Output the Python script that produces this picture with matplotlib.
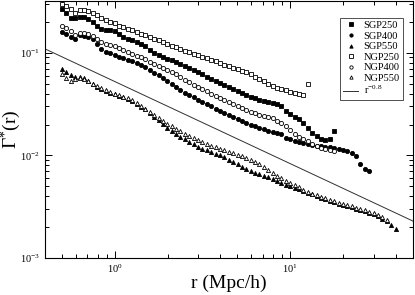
import matplotlib
matplotlib.use("Agg")
import matplotlib.pyplot as plt
from matplotlib.ticker import LogLocator, LogFormatterSciNotation, NullFormatter

plt.rcParams["font.family"] = ["Liberation Serif", "DejaVu Serif"]
plt.rcParams["mathtext.fontset"] = "custom"
plt.rcParams["mathtext.rm"] = "Liberation Serif"
plt.rcParams["mathtext.it"] = "Liberation Serif:italic"

# r (Mpc/h), gemeinsame Stützstellen
r = [0.501, 0.531, 0.562, 0.596, 0.631, 0.668, 0.708, 0.750, 0.794, 0.841,
     0.891, 0.944, 1.000, 1.059, 1.122, 1.189, 1.259, 1.334, 1.413, 1.496,
     1.585, 1.679, 1.778, 1.884, 1.995, 2.113, 2.239, 2.371, 2.512, 2.661,
     2.818, 2.985, 3.162, 3.350, 3.548, 3.758, 3.981, 4.217, 4.467, 4.732,
     5.012, 5.309, 5.623, 5.957, 6.310, 6.683, 7.079, 7.499, 7.943, 8.414,
     8.913, 9.441, 10.00, 10.59, 11.22, 11.89, 12.59, 13.34, 14.13, 14.96,
     15.85, 16.79, 17.78, 18.84, 19.95, 21.13, 22.39, 23.71, 25.12, 26.61,
     28.18, 29.85, 31.62, 33.50, 35.48, 37.58, 39.81]

ngp250 = [0.299, 0.285, 0.268, 0.244, 0.260, 0.260, 0.255, 0.245, 0.232, 0.216,
          0.207, 0.201, 0.194, 0.184, 0.177, 0.171, 0.166, 0.160, 0.154, 0.148,
          0.142, 0.137, 0.132, 0.127, 0.122, 0.117, 0.113, 0.109, 0.105, 0.101,
          0.0977, 0.0944, 0.0912, 0.0881, 0.0851, 0.0822, 0.0794, 0.0767, 0.0741, 0.0716,
          0.0692, 0.0668, 0.0643, 0.0617, 0.0586, 0.0555, 0.0525, 0.0495, 0.0476, 0.0457,
          0.0442, 0.0429, 0.0419, 0.0407, 0.0398, 0.0391, 0.0501]

sgp250 = [0.266, 0.245, 0.216, 0.216, 0.224, 0.221, 0.213, 0.200, 0.184, 0.172,
          0.167, 0.167, 0.162, 0.152, 0.143, 0.136, 0.132, 0.127, 0.122, 0.116,
          0.106, 0.0989, 0.0944, 0.0908, 0.0875, 0.0841, 0.0809, 0.0780, 0.0750, 0.0716,
          0.0684, 0.0653, 0.0617, 0.0586, 0.0556, 0.0530, 0.0507, 0.0484, 0.0462, 0.0442,
          0.0422, 0.0403, 0.0386, 0.0372, 0.0359, 0.0348, 0.0339, 0.0331, 0.0324, 0.0316,
          0.0302, 0.0272, 0.0254, 0.0239, 0.0224, 0.0209, 0.0186, 0.0165, 0.0153, 0.0145,
          0.0142, 0.0143, 0.0172]

ngp400 = [0.184, 0.174, 0.162, 0.150, 0.157, 0.157, 0.152, 0.145, 0.136, 0.127,
          0.122, 0.120, 0.116, 0.111, 0.106, 0.102, 0.0982, 0.0938, 0.0902, 0.0867,
          0.0813, 0.0780, 0.0748, 0.0716, 0.0684, 0.0652, 0.0619, 0.0578, 0.0547, 0.0518,
          0.0490, 0.0466, 0.0444, 0.0422, 0.0400, 0.0380, 0.0363, 0.0347, 0.0331, 0.0316,
          0.0303, 0.0291, 0.0277, 0.0266, 0.0257, 0.0250, 0.0244, 0.0239, 0.0229, 0.0218,
          0.0207, 0.0193, 0.0178, 0.0162, 0.0152, 0.0145, 0.0137, 0.0129, 0.0124, 0.0119,
          0.0116, 0.0113, 0.0111]

sgp400 = [0.160, 0.151, 0.141, 0.137, 0.149, 0.147, 0.143, 0.135, 0.122, 0.108,
          0.102, 0.100, 0.0955, 0.0912, 0.0881, 0.0855, 0.0828, 0.0794, 0.0759, 0.0724,
          0.0676, 0.0638, 0.0605, 0.0569, 0.0531, 0.0495, 0.0462, 0.0432, 0.0407, 0.0387,
          0.0367, 0.0349, 0.0333, 0.0316, 0.0301, 0.0284, 0.0271, 0.0258, 0.0247, 0.0236,
          0.0225, 0.0215, 0.0207, 0.0200, 0.0192, 0.0186, 0.0180, 0.0174, 0.0170, 0.0166,
          0.0160, 0.0149, 0.0143, 0.0139, 0.0135, 0.0132, 0.0129, 0.0126, 0.0124, 0.0123,
          0.0122, 0.0120, 0.0119, 0.0116, 0.0113, 0.0110, 0.0105, 0.00989, 0.00832, 0.00733,
          0.00708]

sgp550 = [0.0692, 0.0646, 0.0610, 0.0582, 0.0575, 0.0562, 0.0525, 0.0495, 0.0468, 0.0445,
          0.0425, 0.0407, 0.0394, 0.0380, 0.0369, 0.0358, 0.0339, 0.0316, 0.0299, 0.0281,
          0.0257, 0.0237, 0.0219, 0.0202, 0.0187, 0.0174, 0.0162, 0.0151, 0.0143, 0.0135,
          0.0128, 0.0122, 0.0116, 0.0112, 0.0108, 0.0104, 0.0100, 0.00955, 0.00908, 0.00861,
          0.00817, 0.00776, 0.00741, 0.00708, 0.00679, 0.00653, 0.00631, 0.00610, 0.00586, 0.00562,
          0.00540, 0.00519, 0.00501, 0.00484, 0.00468, 0.00447, 0.00432, 0.00417, 0.00403, 0.00389,
          0.00376, 0.00363, 0.00351, 0.00340, 0.00331, 0.00322, 0.00313, 0.00304, 0.00295, 0.00285,
          0.00277, 0.00268, 0.00257, 0.00243, 0.00229, 0.00211, 0.00191]

ngp550 = [0.0617, 0.0569, 0.0531, 0.0556, 0.0569, 0.0560, 0.0531, 0.0501, 0.0473, 0.0449,
          0.0429, 0.0411, 0.0398, 0.0385, 0.0373, 0.0361, 0.0345, 0.0324, 0.0305, 0.0285,
          0.0263, 0.0245, 0.0230, 0.0216, 0.0204, 0.0193, 0.0182, 0.0172, 0.0163, 0.0155,
          0.0148, 0.0141, 0.0136, 0.0130, 0.0124, 0.0120, 0.0115, 0.0112, 0.0108, 0.0105,
          0.0101, 0.00982, 0.00951, 0.00912, 0.00867, 0.00817, 0.00767, 0.00716, 0.00673, 0.00634,
          0.00600, 0.00569, 0.00540, 0.00513, 0.00488, 0.00462, 0.00442, 0.00425, 0.00409, 0.00395,
          0.00382, 0.00370, 0.00358, 0.00348, 0.00338, 0.00329, 0.00320, 0.00311, 0.00302, 0.00292,
          0.00283, 0.00274, 0.00263, 0.00249, 0.00236]

# Referenzgerade r^-0.8
fit_r = [0.4, 50.0]
fit_amp = 0.0525
fit_slope = -0.8

fig = plt.figure(figsize=(4.15, 2.95), dpi=100)
ax = fig.add_axes([0.108, 0.125, 0.887, 0.872])

ms = 3.0
mew = 0.6
series = [
    ("SGP250", sgp250, "s", "black"),
    ("SGP400", sgp400, "o", "black"),
    ("SGP550", sgp550, "^", "black"),
    ("NGP250", ngp250, "s", "white"),
    ("NGP400", ngp400, "o", "white"),
    ("NGP550", ngp550, "^", "white"),
]
for name, vals, m, face in series:
    ax.plot(r[:len(vals)], vals, linestyle="none", marker=m, markersize=ms,
            markerfacecolor=face, markeredgecolor="black", markeredgewidth=mew,
            label=name)

fit_vals = [fit_amp * x ** fit_slope for x in fit_r]
ax.plot(fit_r, fit_vals, color="#303030", linewidth=0.7, label=r"r$^{-0.8}$")

ax.set_xscale("log")
ax.set_yscale("log")
ax.set_xlim(0.4, 50)
ax.set_ylim(1e-3, 0.32)

ax.xaxis.set_major_locator(LogLocator(base=10, numticks=10))
ax.yaxis.set_major_locator(LogLocator(base=10, numticks=10))
ax.xaxis.set_minor_locator(LogLocator(base=10, subs=range(2, 10), numticks=20))
ax.yaxis.set_minor_locator(LogLocator(base=10, subs=range(2, 10), numticks=20))
ax.xaxis.set_minor_formatter(NullFormatter())
ax.yaxis.set_minor_formatter(NullFormatter())
ax.xaxis.set_major_formatter(LogFormatterSciNotation())
ax.yaxis.set_major_formatter(LogFormatterSciNotation())

ax.tick_params(which="both", direction="in", top=True, right=True,
               labelsize=7.5, width=0.7)
ax.tick_params(which="major", length=5, pad=3.5)
ax.tick_params(which="minor", length=3)
for s in ax.spines.values():
    s.set_linewidth(0.8)

ax.set_xlabel("r (Mpc/h)", fontsize=14)
ax.set_ylabel(r"Γ$^{*}$(r)", fontsize=14)
ax.xaxis.set_label_coords(0.5, -0.066)
ax.yaxis.set_label_coords(-0.058, 0.5)

leg = ax.legend(loc="upper right", bbox_to_anchor=(0.987, 0.955), fontsize=7.5,
                frameon=True, fancybox=False, edgecolor="black",
                handlelength=1.5, handletextpad=0.5, borderpad=0.3,
                labelspacing=0.12, markerscale=0.8)
leg.get_frame().set_linewidth(0.6)

fig.savefig("out.png", dpi=100)
